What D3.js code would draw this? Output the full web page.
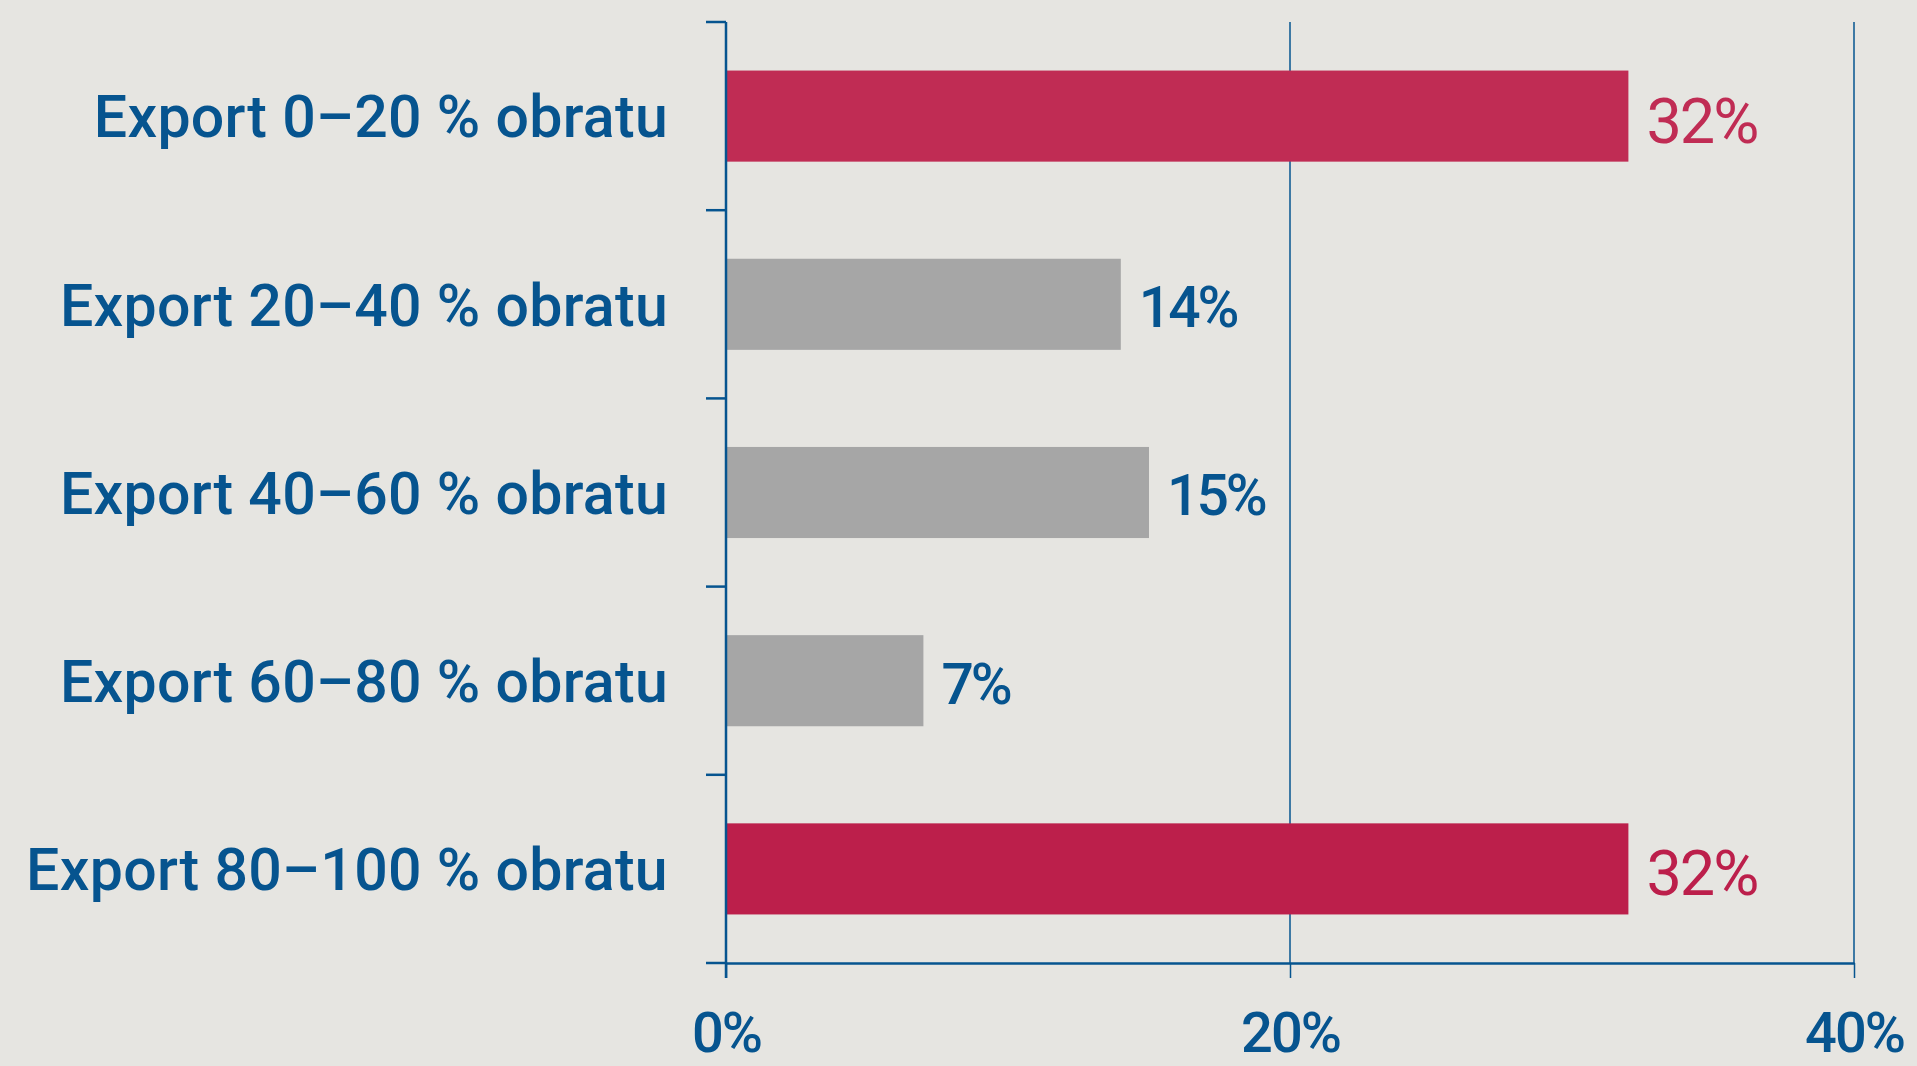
<!DOCTYPE html>
<html>
<head>
<meta charset="utf-8">
<script src="https://cdnjs.cloudflare.com/ajax/libs/d3/7.8.5/d3.min.js"></script>
<style>
    body { margin: 0; background: #e6e5e1; }
    svg { display: block; }
</style>
</head>
<body>
<div class="canvas"></div>
<script>
// data
var categories = ["Export 0–20 % obratu", "Export 20–40 % obratu", "Export 40–60 % obratu",
    "Export 60–80 % obratu", "Export 80–100 % obratu"];
var shares = [32, 14, 15, 7, 32];
var xTicks = [0, 20, 40];

var blue = "#06548f";

function barColor(i) {
    var colors = ["#c02c54", "#a6a6a6", "#a6a6a6", "#a6a6a6", "#bc1f4b"];
    return colors[i];
}

function loadGraph() {
    var width = 1917, height = 1066;
    var margin = { top: 22, left: 726, right: 63, bottom: 103 };

    var svg = d3.select(".canvas").append("svg")
        .attr("width", width)
        .attr("height", height)
        .style("background", "#e6e5e1");

    var x = d3.scaleLinear().domain([0, 40]).range([margin.left, width - margin.right]);
    var y = d3.scaleBand().domain(categories)
        .range([margin.top, height - margin.bottom])
        .paddingInner(0.516).paddingOuter(0.258);

    var bottom = height - margin.bottom;
    var step = y.step();

    // vertical gridlines (20 %, 40 %)
    svg.selectAll(".grid").data(xTicks.filter(function (d) { return d > 0; }))
        .enter().append("line")
        .attr("x1", function (d) { return x(d); })
        .attr("x2", function (d) { return x(d); })
        .attr("y1", margin.top).attr("y2", bottom)
        .attr("stroke", blue).attr("stroke-width", 1.5);

    // bars
    svg.selectAll(".bar").data(shares)
        .enter().append("rect")
        .attr("x", x(0))
        .attr("y", function (d, i) { return y(categories[i]); })
        .attr("width", function (d) { return x(d) - x(0); })
        .attr("height", y.bandwidth())
        .attr("fill", function (d, i) { return barColor(i); });

    // x axis
    var xAxis = svg.append("g")
        .attr("transform", "translate(0," + bottom + ")")
        .call(d3.axisBottom(x).tickValues(xTicks).tickSizeInner(15).tickSizeOuter(0).tickFormat(function (d) { return d + "%"; }));
    xAxis.select(".domain").attr("stroke", blue).attr("stroke-width", 2.5);
    xAxis.selectAll(".tick line").attr("stroke", blue).attr("stroke-width", 1.5);
    xAxis.selectAll(".tick text")
        .attr("y", 89).attr("dy", 0)
        .attr("fill", blue)
        .style("font-family", "Roboto, sans-serif")
        .style("font-weight", 500)
        .style("font-size", "56px")
        .style("letter-spacing", "-2px");

    // y axis: line plus ticks on category boundaries
    var bounds = categories.map(function (c) { return y(c) - y.paddingInner() * step / 2; });
    bounds.push(bounds[bounds.length - 1] + step);
    svg.append("line")
        .attr("x1", x(0)).attr("x2", x(0))
        .attr("y1", margin.top).attr("y2", bottom + 15)
        .attr("stroke", blue).attr("stroke-width", 2.5);
    svg.selectAll(".ytick").data(bounds)
        .enter().append("line")
        .attr("x1", x(0) - 20).attr("x2", x(0))
        .attr("y1", function (d) { return d; })
        .attr("y2", function (d) { return d; })
        .attr("stroke", blue).attr("stroke-width", 2.5);

    // category labels
    svg.selectAll(".cat").data(categories)
        .enter().append("text")
        .attr("x", x(0) - 58)
        .attr("y", function (d) { return y(d) + y.bandwidth() / 2; })
        .attr("dy", "0.36em")
        .attr("text-anchor", "end")
        .attr("fill", blue)
        .style("font-family", "Roboto, sans-serif")
        .style("font-weight", 500)
        .style("font-size", "59px")
        .style("letter-spacing", "0.3px")
        .text(function (d) { return d; });

    // value labels
    svg.selectAll(".val").data(shares)
        .enter().append("text")
        .attr("x", function (d) { return x(d) + 18; })
        .attr("y", function (d, i) { return y(categories[i]) + y.bandwidth() / 2; })
        .attr("dy", function (d) { return d >= 30 ? "0.42em" : "0.4em"; })
        .attr("fill", function (d, i) { return d >= 30 ? barColor(i) : blue; })
        .style("font-family", "Roboto, sans-serif")
        .style("font-weight", function (d) { return d >= 30 ? 400 : 500; })
        .style("font-size", function (d) { return d >= 30 ? "63px" : "57px"; })
        .style("letter-spacing", function (d) { return d >= 30 ? "-2px" : "-3px"; })
        .text(function (d) { return d + "%"; });
}

loadGraph();
</script>
</body>
</html>
